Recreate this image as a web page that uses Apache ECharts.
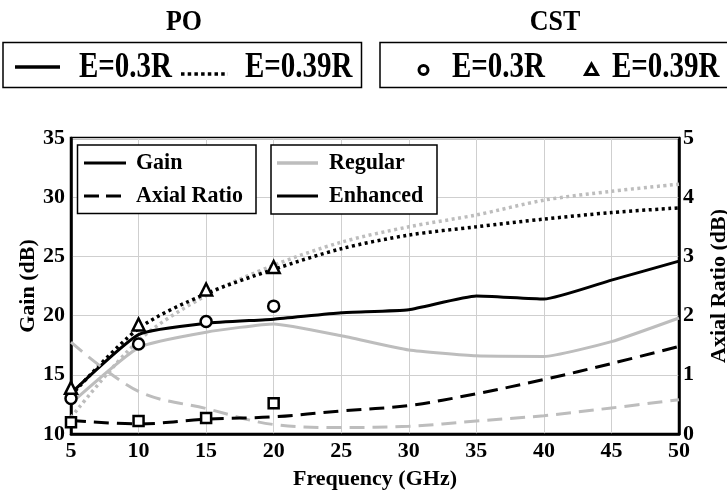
<!DOCTYPE html>
<html>
<head>
<meta charset="utf-8">
<title>Gain and Axial Ratio vs Frequency</title>
<script src="https://cdn.jsdelivr.net/npm/echarts@6/dist/echarts.min.js"></script>
<style>
  html, body { margin: 0; padding: 0; background: #fff; }
  #chart { width: 727px; height: 495px; }
</style>
</head>
<body>
<div id="chart"></div>
<script>
// Frequency sweep (GHz)
var freq = [5, 10, 15, 20, 25, 30, 35, 40, 45, 50];

// PO results, gain (dB)
var poGainEnh03 = [13.45, 18.4, 19.35, 19.7, 20.25, 20.5, 21.65, 21.4, 23.0, 24.6];
var poGainReg03 = [12.6, 17.3, 18.6, 19.3, 18.3, 17.1, 16.6, 16.55, 17.8, 19.8];
var poGainEnh039 = [13.25, 18.9, 21.85, 23.9, 25.65, 26.8, 27.5, 28.15, 28.7, 29.1];
var poGainReg039 = [11.4, 17.9, 21.7, 24.25, 26.2, 27.5, 28.5, 29.75, 30.5, 31.1];

// PO results, axial ratio (dB)
var poAREnh = [0.23, 0.17, 0.25, 0.29, 0.39, 0.48, 0.68, 0.92, 1.19, 1.48];
var poARReg = [1.55, 0.72, 0.43, 0.16, 0.11, 0.13, 0.22, 0.31, 0.44, 0.58];

// CST full-wave points
var cstFreq = [5, 10, 15, 20];
var cstGain03 = [13.0, 17.6, 19.5, 20.8];
var cstGain039 = [13.9, 19.25, 22.2, 24.1];
var cstAR = [0.2, 0.22, 0.27, 0.52];

// Axis ranges
var gainTicks = { min: 10, max: 35, step: 5 };
var arTicks = { min: 0, max: 5, step: 1 };
var freqTicks = { min: 5, max: 50, step: 5 };

function pairs(xs, ys) { return xs.map(function (x, i) { return [x, ys[i]]; }); }

var FONT = '"Liberation Serif", "Times New Roman", serif';
var BLACK = '#000';
var GRAY = '#bdbdbd';

function lineSeries(name, data, color, type, width, axis, smooth) {
  return {
    name: name, type: 'line', data: data, yAxisIndex: axis,
    symbol: 'none', smooth: smooth, z: 3,
    lineStyle: { color: color, width: width, type: type, cap: 'butt' }
  };
}

function markerSeries(name, data, symbol, size, axis) {
  return {
    name: name, type: 'scatter', data: data, yAxisIndex: axis,
    symbol: symbol, symbolSize: size, z: 5,
    itemStyle: { color: '#fff', borderColor: BLACK, borderWidth: 2.5, opacity: 1 }
  };
}

// Text placed at (x, y) with optional vertical stretch around its own centre line
function txt(str, x, y, size, align, sy) {
  return {
    type: 'text', z: 101, x: x, y: y, scaleY: sy || 1,
    style: {
      text: str, x: 0, y: 0, fill: BLACK,
      font: 'bold ' + size + 'px ' + FONT,
      textAlign: align || 'left', textVerticalAlign: 'middle'
    }
  };
}
function seg(x1, y1, x2, y2, color, w, dash) {
  return {
    type: 'line', z: 101,
    shape: { x1: x1, y1: y1, x2: x2, y2: y2 },
    style: { stroke: color, lineWidth: w, lineDash: dash || null }
  };
}
function box(x, y, w, h) {
  return {
    type: 'rect', z: 100,
    shape: { x: x, y: y, width: w, height: h },
    style: { fill: '#fff', stroke: BLACK, lineWidth: 1.5 }
  };
}

var axisLabelStyle = { color: BLACK, fontFamily: FONT, fontWeight: 'bold', fontSize: 22 };
var axisNameStyle = { color: BLACK, fontFamily: FONT, fontWeight: 'bold', fontSize: 22 };

var option = {
  animation: false,
  backgroundColor: '#fff',
  grid: {
    left: 71, right: 48, top: 138, bottom: 61,
    outerBoundsMode: 'none', containLabel: false,
    show: true, borderColor: BLACK, borderWidth: 2.5, backgroundColor: 'transparent'
  },
  xAxis: {
    type: 'value', min: freqTicks.min, max: freqTicks.max, interval: freqTicks.step,
    name: 'Frequency (GHz)', nameLocation: 'middle', nameGap: 34,
    nameTextStyle: axisNameStyle,
    axisLine: { show: true, lineStyle: { color: BLACK, width: 2.5 } },
    axisTick: { show: false },
    axisLabel: Object.assign({ margin: 6 }, axisLabelStyle),
    splitLine: { show: true, lineStyle: { color: '#cfcfcf', width: 1 } }
  },
  yAxis: [
    {
      type: 'value', position: 'left',
      min: gainTicks.min, max: gainTicks.max, interval: gainTicks.step,
      name: 'Gain (dB)', nameLocation: 'middle', nameGap: 32, nameMoveOverlap: false,
      nameTextStyle: axisNameStyle,
      axisLine: { show: true, lineStyle: { color: BLACK, width: 2.5 } },
      axisTick: { show: false },
      axisLabel: Object.assign({ margin: 6 }, axisLabelStyle),
      splitLine: { show: true, lineStyle: { color: '#cfcfcf', width: 1 } }
    },
    {
      type: 'value', position: 'right',
      min: arTicks.min, max: arTicks.max, interval: arTicks.step,
      name: 'Axial Ratio (dB)', nameLocation: 'middle', nameGap: 29,
      nameTextStyle: axisNameStyle,
      axisLine: { show: true, lineStyle: { color: BLACK, width: 2.5 } },
      axisTick: { show: false },
      axisLabel: Object.assign({ margin: 4 }, axisLabelStyle),
      splitLine: { show: false }
    }
  ],
  series: [
    lineSeries('PO regular E=0.39R gain', pairs(freq, poGainReg039), GRAY, [3, 3.5], 3.5, 0, 0.3),
    lineSeries('PO enhanced E=0.39R gain', pairs(freq, poGainEnh039), BLACK, [3, 3.5], 3.5, 0, 0.3),
    lineSeries('PO regular E=0.3R gain', pairs(freq, poGainReg03), GRAY, 'solid', 3, 0, 0.15),
    lineSeries('PO enhanced E=0.3R gain', pairs(freq, poGainEnh03), BLACK, 'solid', 3, 0, 0.15),
    lineSeries('PO regular axial ratio', pairs(freq, poARReg), GRAY, [15, 8], 3, 1, 0.35),
    lineSeries('PO enhanced axial ratio', pairs(freq, poAREnh), BLACK, [15, 8], 3, 1, 0.35),
    markerSeries('CST E=0.3R gain', pairs(cstFreq, cstGain03), 'circle', 11, 0),
    markerSeries('CST E=0.39R gain', pairs(cstFreq, cstGain039), 'triangle', 12, 0),
    markerSeries('CST axial ratio', pairs(cstFreq, cstAR), 'rect', 10, 1)
  ],
  graphic: [
    // PO legend
    txt('PO', 184, 23, 26, 'center', 1.1),
    box(3, 42.5, 358.5, 45),
    seg(15, 67, 60, 67, BLACK, 3.5),
    txt('E=0.3R', 79, 68.5, 29, 'left', 1.2),
    seg(181, 74, 228, 74, BLACK, 3.5, [3.5, 3.2]),
    txt('E=0.39R', 245, 68.5, 29, 'left', 1.2),
    // CST legend
    txt('CST', 555, 23, 26, 'center', 1.1),
    box(380, 42.5, 360, 45),
    {
      type: 'circle', z: 101,
      shape: { cx: 423.5, cy: 70, r: 4.5 },
      style: { fill: '#fff', stroke: BLACK, lineWidth: 3 }
    },
    txt('E=0.3R', 452, 68.5, 29, 'left', 1.2),
    {
      type: 'polygon', z: 101,
      shape: { points: [[591.5, 64], [585.5, 74.5], [597.5, 74.5]] },
      style: { fill: '#fff', stroke: BLACK, lineWidth: 3 }
    },
    txt('E=0.39R', 612, 68.5, 29, 'left', 1.2),
    // Line-style key
    box(77.5, 145, 178.5, 68.5),
    seg(84, 163, 126, 163, BLACK, 3),
    txt('Gain', 136, 163, 22, 'left', 1.08),
    seg(84, 196, 122, 196, BLACK, 3, [15, 7]),
    txt('Axial Ratio', 136, 196, 22, 'left', 1.08),
    // Colour key
    box(271, 145, 166, 69),
    seg(277, 163, 318, 163, GRAY, 3.5),
    txt('Regular', 329, 163, 22, 'left', 1.08),
    seg(277, 196, 318, 196, BLACK, 3),
    txt('Enhanced', 329, 196, 22, 'left', 1.08)
  ]
};

var chart = echarts.init(document.getElementById('chart'), null, { renderer: 'canvas' });
chart.setOption(option);
</script>
</body>
</html>
